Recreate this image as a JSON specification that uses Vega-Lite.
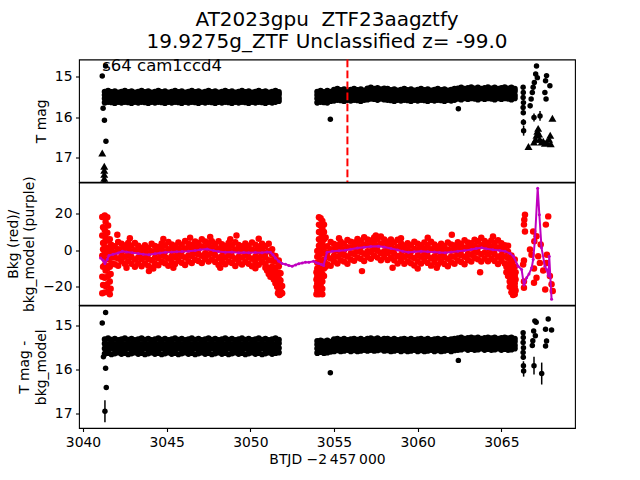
{
"$schema":"https://vega.github.io/schema/vega-lite/v6.json",
"padding":{"left":5,"top":8.5,"right":5,"bottom":5},
"spacing":0,
"bounds":"flush",
"config":{
 "font":"DejaVu Sans",
 "view":{"stroke":"black","strokeWidth":1.1},
 "axis":{"labelFont":"DejaVu Sans","labelFontSize":13.9,"labelColor":"black","titleFont":"DejaVu Sans","titleFontSize":13.9,"titleFontWeight":"normal","titleColor":"black","tickColor":"black","tickSize":3.5,"tickWidth":1.1,"labelPadding":3.5,"domain":false,"grid":false,"titlePadding":6,"titleLineHeight":16.5}
},
"datasets":{
"band":[
{"t":3041.3,"m":15.37,"c":15.32,"b":-8.0},{"t":3041.3,"m":15.45,"c":15.42,"b":-4.8},{"t":3041.3,"m":15.54,"c":15.53,"b":-1.5},{"t":3041.3,"m":15.64,"c":15.65,"b":1.6},
{"t":3041.5,"m":15.35,"c":15.30,"b":-8.7},{"t":3041.5,"m":15.46,"c":15.43,"b":-4.9},{"t":3041.5,"m":15.55,"c":15.55,"b":-1.5},{"t":3041.5,"m":15.62,"c":15.63,"b":1.3},
{"t":3041.7,"m":15.38,"c":15.33,"b":-7.1},{"t":3041.7,"m":15.44,"c":15.41,"b":-3.7},{"t":3041.7,"m":15.53,"c":15.52,"b":-0.3},{"t":3041.7,"m":15.63,"c":15.66,"b":2.9},
{"t":3041.9,"m":15.36,"c":15.31,"b":-7.6},{"t":3041.9,"m":15.47,"c":15.44,"b":-4.0},{"t":3041.9,"m":15.56,"c":15.54,"b":-1.2},{"t":3041.9,"m":15.65,"c":15.64,"b":2.2},
{"t":3042.1,"m":15.39,"c":15.34,"b":-8.5},{"t":3042.1,"m":15.45,"c":15.42,"b":-4.5},{"t":3042.1,"m":15.55,"c":15.53,"b":0.5},{"t":3042.1,"m":15.62,"c":15.62,"b":4.5},
{"t":3042.3,"m":15.37,"c":15.32,"b":-6.0},{"t":3042.3,"m":15.45,"c":15.42,"b":-2.8},{"t":3042.3,"m":15.54,"c":15.53,"b":0.5},{"t":3042.3,"m":15.64,"c":15.65,"b":3.6},
{"t":3042.5,"m":15.35,"c":15.30,"b":-7.4},{"t":3042.5,"m":15.46,"c":15.43,"b":-3.6},{"t":3042.5,"m":15.55,"c":15.55,"b":-0.2},{"t":3042.5,"m":15.62,"c":15.63,"b":2.6},
{"t":3042.7,"m":15.38,"c":15.33,"b":-6.0},{"t":3042.7,"m":15.44,"c":15.41,"b":-2.6},{"t":3042.7,"m":15.53,"c":15.52,"b":0.8},{"t":3042.7,"m":15.63,"c":15.66,"b":4.0},
{"t":3042.9,"m":15.36,"c":15.31,"b":-7.4},{"t":3042.9,"m":15.47,"c":15.44,"b":-3.8},{"t":3042.9,"m":15.56,"c":15.54,"b":-1.0},{"t":3042.9,"m":15.65,"c":15.64,"b":2.4},
{"t":3043.1,"m":15.39,"c":15.34,"b":-9.0},{"t":3043.1,"m":15.45,"c":15.42,"b":-5.0},{"t":3043.1,"m":15.55,"c":15.53,"b":0.0},{"t":3043.1,"m":15.62,"c":15.62,"b":4.0},
{"t":3043.3,"m":15.37,"c":15.32,"b":-7.2},{"t":3043.3,"m":15.45,"c":15.42,"b":-4.0},{"t":3043.3,"m":15.54,"c":15.53,"b":-0.7},{"t":3043.3,"m":15.64,"c":15.65,"b":2.4},
{"t":3043.5,"m":15.35,"c":15.30,"b":-8.7},{"t":3043.5,"m":15.46,"c":15.43,"b":-4.9},{"t":3043.5,"m":15.55,"c":15.55,"b":-1.5},{"t":3043.5,"m":15.62,"c":15.63,"b":1.3},
{"t":3043.7,"m":15.38,"c":15.33,"b":-7.3},{"t":3043.7,"m":15.44,"c":15.41,"b":-3.9},{"t":3043.7,"m":15.53,"c":15.52,"b":-0.5},{"t":3043.7,"m":15.63,"c":15.66,"b":2.7},
{"t":3043.9,"m":15.36,"c":15.31,"b":-8.4},{"t":3043.9,"m":15.47,"c":15.44,"b":-4.8},{"t":3043.9,"m":15.56,"c":15.54,"b":-2.0},{"t":3043.9,"m":15.65,"c":15.64,"b":1.4},
{"t":3044.1,"m":15.39,"c":15.34,"b":-9.5},{"t":3044.1,"m":15.45,"c":15.42,"b":-5.5},{"t":3044.1,"m":15.55,"c":15.53,"b":-0.5},{"t":3044.1,"m":15.62,"c":15.62,"b":3.5},
{"t":3044.3,"m":15.37,"c":15.32,"b":-7.3},{"t":3044.3,"m":15.45,"c":15.42,"b":-4.1},{"t":3044.3,"m":15.54,"c":15.53,"b":-0.8},{"t":3044.3,"m":15.64,"c":15.65,"b":2.3},
{"t":3044.5,"m":15.35,"c":15.30,"b":-8.2},{"t":3044.5,"m":15.46,"c":15.43,"b":-4.4},{"t":3044.5,"m":15.55,"c":15.55,"b":-1.0},{"t":3044.5,"m":15.62,"c":15.63,"b":1.8},
{"t":3044.7,"m":15.38,"c":15.33,"b":-6.3},{"t":3044.7,"m":15.44,"c":15.41,"b":-2.9},{"t":3044.7,"m":15.53,"c":15.52,"b":0.5},{"t":3044.7,"m":15.63,"c":15.66,"b":3.7},
{"t":3044.9,"m":15.36,"c":15.31,"b":-7.1},{"t":3044.9,"m":15.47,"c":15.44,"b":-3.5},{"t":3044.9,"m":15.56,"c":15.54,"b":-0.7},{"t":3044.9,"m":15.65,"c":15.64,"b":2.7},
{"t":3045.1,"m":15.39,"c":15.34,"b":-8.5},{"t":3045.1,"m":15.45,"c":15.42,"b":-4.5},{"t":3045.1,"m":15.55,"c":15.53,"b":0.5},{"t":3045.1,"m":15.62,"c":15.62,"b":4.5},
{"t":3045.3,"m":15.37,"c":15.32,"b":-6.4},{"t":3045.3,"m":15.45,"c":15.42,"b":-3.2},{"t":3045.3,"m":15.54,"c":15.53,"b":0.1},{"t":3045.3,"m":15.64,"c":15.65,"b":3.2},
{"t":3045.5,"m":15.35,"c":15.30,"b":-7.5},{"t":3045.5,"m":15.46,"c":15.43,"b":-3.7},{"t":3045.5,"m":15.55,"c":15.55,"b":-0.3},{"t":3045.5,"m":15.62,"c":15.63,"b":2.5},
{"t":3045.7,"m":15.38,"c":15.33,"b":-5.8},{"t":3045.7,"m":15.44,"c":15.41,"b":-2.4},{"t":3045.7,"m":15.53,"c":15.52,"b":1.0},{"t":3045.7,"m":15.63,"c":15.66,"b":4.2},
{"t":3045.9,"m":15.36,"c":15.31,"b":-6.8},{"t":3045.9,"m":15.47,"c":15.44,"b":-3.2},{"t":3045.9,"m":15.56,"c":15.54,"b":-0.4},{"t":3045.9,"m":15.65,"c":15.64,"b":3.0},
{"t":3046.1,"m":15.39,"c":15.34,"b":-8.0},{"t":3046.1,"m":15.45,"c":15.42,"b":-4.0},{"t":3046.1,"m":15.55,"c":15.53,"b":1.0},{"t":3046.1,"m":15.62,"c":15.62,"b":5.0},
{"t":3046.3,"m":15.37,"c":15.32,"b":-6.0},{"t":3046.3,"m":15.45,"c":15.42,"b":-2.8},{"t":3046.3,"m":15.54,"c":15.53,"b":0.5},{"t":3046.3,"m":15.64,"c":15.65,"b":3.6},
{"t":3046.5,"m":15.35,"c":15.30,"b":-7.0},{"t":3046.5,"m":15.46,"c":15.43,"b":-3.2},{"t":3046.5,"m":15.55,"c":15.55,"b":0.2},{"t":3046.5,"m":15.62,"c":15.63,"b":3.0},
{"t":3046.7,"m":15.38,"c":15.33,"b":-5.2},{"t":3046.7,"m":15.44,"c":15.41,"b":-1.8},{"t":3046.7,"m":15.53,"c":15.52,"b":1.6},{"t":3046.7,"m":15.63,"c":15.66,"b":4.8},
{"t":3046.9,"m":15.36,"c":15.31,"b":-5.9},{"t":3046.9,"m":15.47,"c":15.44,"b":-2.3},{"t":3046.9,"m":15.56,"c":15.54,"b":0.5},{"t":3046.9,"m":15.65,"c":15.64,"b":3.9},
{"t":3047.1,"m":15.39,"c":15.34,"b":-7.0},{"t":3047.1,"m":15.45,"c":15.42,"b":-3.0},{"t":3047.1,"m":15.55,"c":15.53,"b":2.0},{"t":3047.1,"m":15.62,"c":15.62,"b":6.0},
{"t":3047.3,"m":15.37,"c":15.32,"b":-4.8},{"t":3047.3,"m":15.45,"c":15.42,"b":-1.6},{"t":3047.3,"m":15.54,"c":15.53,"b":1.7},{"t":3047.3,"m":15.64,"c":15.65,"b":4.8},
{"t":3047.5,"m":15.35,"c":15.30,"b":-6.2},{"t":3047.5,"m":15.46,"c":15.43,"b":-2.4},{"t":3047.5,"m":15.55,"c":15.55,"b":1.0},{"t":3047.5,"m":15.62,"c":15.63,"b":3.8},
{"t":3047.7,"m":15.38,"c":15.33,"b":-5.1},{"t":3047.7,"m":15.44,"c":15.41,"b":-1.7},{"t":3047.7,"m":15.53,"c":15.52,"b":1.7},{"t":3047.7,"m":15.63,"c":15.66,"b":4.9},
{"t":3047.9,"m":15.36,"c":15.31,"b":-6.4},{"t":3047.9,"m":15.47,"c":15.44,"b":-2.8},{"t":3047.9,"m":15.56,"c":15.54,"b":0.0},{"t":3047.9,"m":15.65,"c":15.64,"b":3.4},
{"t":3048.1,"m":15.39,"c":15.34,"b":-8.1},{"t":3048.1,"m":15.45,"c":15.42,"b":-4.1},{"t":3048.1,"m":15.55,"c":15.53,"b":0.9},{"t":3048.1,"m":15.62,"c":15.62,"b":4.9},
{"t":3048.3,"m":15.37,"c":15.32,"b":-6.3},{"t":3048.3,"m":15.45,"c":15.42,"b":-3.1},{"t":3048.3,"m":15.54,"c":15.53,"b":0.2},{"t":3048.3,"m":15.64,"c":15.65,"b":3.3},
{"t":3048.5,"m":15.35,"c":15.30,"b":-7.7},{"t":3048.5,"m":15.46,"c":15.43,"b":-3.9},{"t":3048.5,"m":15.55,"c":15.55,"b":-0.5},{"t":3048.5,"m":15.62,"c":15.63,"b":2.3},
{"t":3048.7,"m":15.38,"c":15.33,"b":-6.1},{"t":3048.7,"m":15.44,"c":15.41,"b":-2.7},{"t":3048.7,"m":15.53,"c":15.52,"b":0.7},{"t":3048.7,"m":15.63,"c":15.66,"b":3.9},
{"t":3048.9,"m":15.36,"c":15.31,"b":-7.0},{"t":3048.9,"m":15.47,"c":15.44,"b":-3.4},{"t":3048.9,"m":15.56,"c":15.54,"b":-0.6},{"t":3048.9,"m":15.65,"c":15.64,"b":2.8},
{"t":3049.1,"m":15.39,"c":15.34,"b":-8.6},{"t":3049.1,"m":15.45,"c":15.42,"b":-4.6},{"t":3049.1,"m":15.55,"c":15.53,"b":0.4},{"t":3049.1,"m":15.62,"c":15.62,"b":4.4},
{"t":3049.3,"m":15.37,"c":15.32,"b":-6.7},{"t":3049.3,"m":15.45,"c":15.42,"b":-3.5},{"t":3049.3,"m":15.54,"c":15.53,"b":-0.2},{"t":3049.3,"m":15.64,"c":15.65,"b":2.9},
{"t":3049.5,"m":15.35,"c":15.30,"b":-7.8},{"t":3049.5,"m":15.46,"c":15.43,"b":-4.0},{"t":3049.5,"m":15.55,"c":15.55,"b":-0.6},{"t":3049.5,"m":15.62,"c":15.63,"b":2.2},
{"t":3049.7,"m":15.38,"c":15.33,"b":-6.3},{"t":3049.7,"m":15.44,"c":15.41,"b":-2.9},{"t":3049.7,"m":15.53,"c":15.52,"b":0.5},{"t":3049.7,"m":15.63,"c":15.66,"b":3.7},
{"t":3049.9,"m":15.36,"c":15.31,"b":-7.4},{"t":3049.9,"m":15.47,"c":15.44,"b":-3.8},{"t":3049.9,"m":15.56,"c":15.54,"b":-1.0},{"t":3049.9,"m":15.65,"c":15.64,"b":2.4},
{"t":3050.1,"m":15.39,"c":15.34,"b":-8.7},{"t":3050.1,"m":15.45,"c":15.42,"b":-4.7},{"t":3050.1,"m":15.55,"c":15.53,"b":0.3},{"t":3050.1,"m":15.62,"c":15.62,"b":4.3},
{"t":3050.3,"m":15.37,"c":15.32,"b":-6.6},{"t":3050.3,"m":15.45,"c":15.42,"b":-3.4},{"t":3050.3,"m":15.54,"c":15.53,"b":-0.1},{"t":3050.3,"m":15.64,"c":15.65,"b":3.0},
{"t":3050.5,"m":15.35,"c":15.30,"b":-7.9},{"t":3050.5,"m":15.46,"c":15.43,"b":-4.1},{"t":3050.5,"m":15.55,"c":15.55,"b":-0.7},{"t":3050.5,"m":15.62,"c":15.63,"b":2.1},
{"t":3050.7,"m":15.38,"c":15.33,"b":-6.4},{"t":3050.7,"m":15.44,"c":15.41,"b":-3.0},{"t":3050.7,"m":15.53,"c":15.52,"b":0.4},{"t":3050.7,"m":15.63,"c":15.66,"b":3.6},
{"t":3050.9,"m":15.36,"c":15.31,"b":-7.6},{"t":3050.9,"m":15.47,"c":15.44,"b":-4.0},{"t":3050.9,"m":15.56,"c":15.54,"b":-1.2},{"t":3050.9,"m":15.65,"c":15.64,"b":2.2},
{"t":3051.1,"m":15.39,"c":15.34,"b":-9.5},{"t":3051.1,"m":15.45,"c":15.42,"b":-5.5},{"t":3051.1,"m":15.55,"c":15.53,"b":-0.5},{"t":3051.1,"m":15.62,"c":15.62,"b":3.5},
{"t":3051.3,"m":15.37,"c":15.32,"b":-9.0},{"t":3051.3,"m":15.45,"c":15.42,"b":-5.8},{"t":3051.3,"m":15.54,"c":15.53,"b":-2.5},{"t":3051.3,"m":15.64,"c":15.65,"b":0.6},
{"t":3051.5,"m":15.35,"c":15.30,"b":-13.2},{"t":3051.5,"m":15.46,"c":15.43,"b":-9.4},{"t":3051.5,"m":15.55,"c":15.55,"b":-6.0},{"t":3051.5,"m":15.62,"c":15.63,"b":-3.2},
{"t":3051.7,"m":15.38,"c":15.33,"b":-15.6},{"t":3051.7,"m":15.44,"c":15.41,"b":-12.2},{"t":3051.7,"m":15.53,"c":15.52,"b":-8.8},{"t":3051.7,"m":15.6,"c":15.62,"b":-5.6},
{"t":3054.0,"m":15.37,"c":15.36,"b":-10.0},{"t":3054.0,"m":15.45,"c":15.44,"b":-6.8},{"t":3054.0,"m":15.54,"c":15.53,"b":-3.5},{"t":3054.0,"m":15.64,"c":15.63,"b":-0.4},
{"t":3054.2,"m":15.35,"c":15.35,"b":-9.2},{"t":3054.2,"m":15.46,"c":15.45,"b":-5.4},{"t":3054.2,"m":15.55,"c":15.55,"b":-2.0},{"t":3054.2,"m":15.62,"c":15.61,"b":0.8},
{"t":3054.4,"m":15.38,"c":15.37,"b":-8.6},{"t":3054.4,"m":15.44,"c":15.43,"b":-5.2},{"t":3054.4,"m":15.53,"c":15.52,"b":-1.8},{"t":3054.4,"m":15.63,"c":15.63,"b":1.4},
{"t":3054.6,"m":15.35,"c":15.35,"b":-7.6},{"t":3054.6,"m":15.46,"c":15.46,"b":-4.0},{"t":3054.6,"m":15.55,"c":15.54,"b":-1.2},{"t":3054.6,"m":15.64,"c":15.62,"b":2.2},
{"t":3054.8,"m":15.37,"c":15.38,"b":-8.5},{"t":3054.8,"m":15.43,"c":15.44,"b":-4.5},{"t":3054.8,"m":15.53,"c":15.53,"b":0.5},{"t":3054.8,"m":15.60,"c":15.60,"b":4.5},
{"t":3055.0,"m":15.32,"c":15.32,"b":-6.2},{"t":3055.0,"m":15.40,"c":15.40,"b":-3.0},{"t":3055.0,"m":15.49,"c":15.49,"b":0.3},{"t":3055.0,"m":15.59,"c":15.59,"b":3.4},
{"t":3055.2,"m":15.30,"c":15.31,"b":-7.2},{"t":3055.2,"m":15.41,"c":15.41,"b":-3.4},{"t":3055.2,"m":15.50,"c":15.51,"b":0.0},{"t":3055.2,"m":15.57,"c":15.57,"b":2.8},
{"t":3055.4,"m":15.33,"c":15.33,"b":-5.4},{"t":3055.4,"m":15.39,"c":15.39,"b":-2.0},{"t":3055.4,"m":15.48,"c":15.48,"b":1.4},{"t":3055.4,"m":15.58,"c":15.59,"b":4.6},
{"t":3055.6,"m":15.31,"c":15.31,"b":-6.2},{"t":3055.6,"m":15.42,"c":15.42,"b":-2.6},{"t":3055.6,"m":15.51,"c":15.50,"b":0.2},{"t":3055.6,"m":15.60,"c":15.58,"b":3.6},
{"t":3055.8,"m":15.34,"c":15.34,"b":-7.4},{"t":3055.8,"m":15.40,"c":15.40,"b":-3.4},{"t":3055.8,"m":15.50,"c":15.49,"b":1.6},{"t":3055.8,"m":15.57,"c":15.56,"b":5.6},
{"t":3056.0,"m":15.32,"c":15.32,"b":-5.0},{"t":3056.0,"m":15.40,"c":15.40,"b":-1.8},{"t":3056.0,"m":15.49,"c":15.49,"b":1.5},{"t":3056.0,"m":15.59,"c":15.59,"b":4.6},
{"t":3056.2,"m":15.30,"c":15.31,"b":-5.8},{"t":3056.2,"m":15.41,"c":15.41,"b":-2.0},{"t":3056.2,"m":15.50,"c":15.51,"b":1.4},{"t":3056.2,"m":15.57,"c":15.57,"b":4.2},
{"t":3056.4,"m":15.33,"c":15.33,"b":-3.9},{"t":3056.4,"m":15.39,"c":15.39,"b":-0.5},{"t":3056.4,"m":15.48,"c":15.48,"b":2.9},{"t":3056.4,"m":15.58,"c":15.59,"b":6.1},
{"t":3056.6,"m":15.31,"c":15.31,"b":-4.6},{"t":3056.6,"m":15.42,"c":15.42,"b":-1.0},{"t":3056.6,"m":15.51,"c":15.50,"b":1.8},{"t":3056.6,"m":15.60,"c":15.58,"b":5.2},
{"t":3056.8,"m":15.34,"c":15.34,"b":-5.9},{"t":3056.8,"m":15.40,"c":15.40,"b":-1.9},{"t":3056.8,"m":15.50,"c":15.49,"b":3.1},{"t":3056.8,"m":15.57,"c":15.56,"b":7.1},
{"t":3057.0,"m":15.29,"c":15.31,"b":-3.7},{"t":3057.0,"m":15.37,"c":15.39,"b":-0.5},{"t":3057.0,"m":15.46,"c":15.48,"b":2.8},{"t":3057.0,"m":15.56,"c":15.58,"b":5.9},
{"t":3057.2,"m":15.27,"c":15.30,"b":-4.7},{"t":3057.2,"m":15.38,"c":15.40,"b":-0.9},{"t":3057.2,"m":15.47,"c":15.50,"b":2.5},{"t":3057.2,"m":15.54,"c":15.56,"b":5.3},
{"t":3057.4,"m":15.30,"c":15.32,"b":-3.0},{"t":3057.4,"m":15.36,"c":15.38,"b":0.4},{"t":3057.4,"m":15.45,"c":15.47,"b":3.8},{"t":3057.4,"m":15.55,"c":15.58,"b":7.0},
{"t":3057.6,"m":15.28,"c":15.30,"b":-3.9},{"t":3057.6,"m":15.39,"c":15.41,"b":-0.3},{"t":3057.6,"m":15.48,"c":15.49,"b":2.5},{"t":3057.6,"m":15.57,"c":15.57,"b":5.9},
{"t":3057.8,"m":15.31,"c":15.33,"b":-5.5},{"t":3057.8,"m":15.37,"c":15.39,"b":-1.5},{"t":3057.8,"m":15.47,"c":15.48,"b":3.5},{"t":3057.8,"m":15.54,"c":15.55,"b":7.5},
{"t":3058.0,"m":15.29,"c":15.31,"b":-3.7},{"t":3058.0,"m":15.37,"c":15.39,"b":-0.5},{"t":3058.0,"m":15.46,"c":15.48,"b":2.8},{"t":3058.0,"m":15.56,"c":15.58,"b":5.9},
{"t":3058.2,"m":15.30,"c":15.31,"b":-5.3},{"t":3058.2,"m":15.41,"c":15.41,"b":-1.5},{"t":3058.2,"m":15.50,"c":15.51,"b":1.9},{"t":3058.2,"m":15.57,"c":15.57,"b":4.7},
{"t":3058.4,"m":15.33,"c":15.33,"b":-4.1},{"t":3058.4,"m":15.39,"c":15.39,"b":-0.7},{"t":3058.4,"m":15.48,"c":15.48,"b":2.7},{"t":3058.4,"m":15.58,"c":15.59,"b":5.9},
{"t":3058.6,"m":15.31,"c":15.31,"b":-5.5},{"t":3058.6,"m":15.42,"c":15.42,"b":-1.9},{"t":3058.6,"m":15.51,"c":15.50,"b":0.9},{"t":3058.6,"m":15.60,"c":15.58,"b":4.3},
{"t":3058.8,"m":15.34,"c":15.34,"b":-7.3},{"t":3058.8,"m":15.40,"c":15.40,"b":-3.3},{"t":3058.8,"m":15.50,"c":15.49,"b":1.7},{"t":3058.8,"m":15.57,"c":15.56,"b":5.7},
{"t":3059.0,"m":15.32,"c":15.32,"b":-5.8},{"t":3059.0,"m":15.40,"c":15.40,"b":-2.6},{"t":3059.0,"m":15.49,"c":15.49,"b":0.7},{"t":3059.0,"m":15.59,"c":15.59,"b":3.8},
{"t":3059.2,"m":15.30,"c":15.31,"b":-7.4},{"t":3059.2,"m":15.41,"c":15.41,"b":-3.6},{"t":3059.2,"m":15.50,"c":15.51,"b":-0.2},{"t":3059.2,"m":15.57,"c":15.57,"b":2.6},
{"t":3059.4,"m":15.33,"c":15.33,"b":-6.2},{"t":3059.4,"m":15.39,"c":15.39,"b":-2.8},{"t":3059.4,"m":15.48,"c":15.48,"b":0.6},{"t":3059.4,"m":15.58,"c":15.59,"b":3.8},
{"t":3059.6,"m":15.31,"c":15.31,"b":-7.1},{"t":3059.6,"m":15.42,"c":15.42,"b":-3.5},{"t":3059.6,"m":15.51,"c":15.50,"b":-0.7},{"t":3059.6,"m":15.60,"c":15.58,"b":2.7},
{"t":3059.8,"m":15.34,"c":15.34,"b":-8.3},{"t":3059.8,"m":15.40,"c":15.40,"b":-4.3},{"t":3059.8,"m":15.50,"c":15.49,"b":0.7},{"t":3059.8,"m":15.57,"c":15.56,"b":4.7},
{"t":3060.0,"m":15.32,"c":15.32,"b":-6.1},{"t":3060.0,"m":15.40,"c":15.40,"b":-2.9},{"t":3060.0,"m":15.49,"c":15.49,"b":0.4},{"t":3060.0,"m":15.59,"c":15.59,"b":3.5},
{"t":3060.2,"m":15.30,"c":15.31,"b":-7.3},{"t":3060.2,"m":15.41,"c":15.41,"b":-3.5},{"t":3060.2,"m":15.50,"c":15.51,"b":-0.1},{"t":3060.2,"m":15.57,"c":15.57,"b":2.7},
{"t":3060.4,"m":15.33,"c":15.33,"b":-5.8},{"t":3060.4,"m":15.39,"c":15.39,"b":-2.4},{"t":3060.4,"m":15.48,"c":15.48,"b":1.0},{"t":3060.4,"m":15.58,"c":15.59,"b":4.2},
{"t":3060.6,"m":15.31,"c":15.31,"b":-6.9},{"t":3060.6,"m":15.42,"c":15.42,"b":-3.3},{"t":3060.6,"m":15.51,"c":15.50,"b":-0.5},{"t":3060.6,"m":15.60,"c":15.58,"b":2.9},
{"t":3060.8,"m":15.34,"c":15.34,"b":-8.4},{"t":3060.8,"m":15.40,"c":15.40,"b":-4.4},{"t":3060.8,"m":15.50,"c":15.49,"b":0.6},{"t":3060.8,"m":15.57,"c":15.56,"b":4.6},
{"t":3061.0,"m":15.32,"c":15.32,"b":-6.5},{"t":3061.0,"m":15.40,"c":15.40,"b":-3.3},{"t":3061.0,"m":15.49,"c":15.49,"b":0.0},{"t":3061.0,"m":15.59,"c":15.59,"b":3.1},
{"t":3061.2,"m":15.30,"c":15.31,"b":-7.9},{"t":3061.2,"m":15.41,"c":15.41,"b":-4.1},{"t":3061.2,"m":15.50,"c":15.51,"b":-0.7},{"t":3061.2,"m":15.57,"c":15.57,"b":2.1},
{"t":3061.4,"m":15.33,"c":15.33,"b":-6.4},{"t":3061.4,"m":15.39,"c":15.39,"b":-3.0},{"t":3061.4,"m":15.48,"c":15.48,"b":0.4},{"t":3061.4,"m":15.58,"c":15.59,"b":3.6},
{"t":3061.6,"m":15.31,"c":15.31,"b":-7.5},{"t":3061.6,"m":15.42,"c":15.42,"b":-3.9},{"t":3061.6,"m":15.51,"c":15.50,"b":-1.1},{"t":3061.6,"m":15.60,"c":15.58,"b":2.3},
{"t":3061.8,"m":15.34,"c":15.34,"b":-8.7},{"t":3061.8,"m":15.40,"c":15.40,"b":-4.7},{"t":3061.8,"m":15.50,"c":15.49,"b":0.3},{"t":3061.8,"m":15.57,"c":15.56,"b":4.3},
{"t":3062.0,"m":15.32,"c":15.32,"b":-6.5},{"t":3062.0,"m":15.40,"c":15.40,"b":-3.3},{"t":3062.0,"m":15.49,"c":15.49,"b":0.0},{"t":3062.0,"m":15.59,"c":15.59,"b":3.1},
{"t":3062.2,"m":15.30,"c":15.31,"b":-7.4},{"t":3062.2,"m":15.41,"c":15.41,"b":-3.6},{"t":3062.2,"m":15.50,"c":15.51,"b":-0.2},{"t":3062.2,"m":15.57,"c":15.57,"b":2.6},
{"t":3062.4,"m":15.29,"c":15.30,"b":-5.6},{"t":3062.4,"m":15.35,"c":15.36,"b":-2.2},{"t":3062.4,"m":15.44,"c":15.45,"b":1.2},{"t":3062.4,"m":15.54,"c":15.56,"b":4.4},
{"t":3062.6,"m":15.27,"c":15.28,"b":-6.4},{"t":3062.6,"m":15.38,"c":15.39,"b":-2.8},{"t":3062.6,"m":15.47,"c":15.47,"b":0.0},{"t":3062.6,"m":15.56,"c":15.55,"b":3.4},
{"t":3062.8,"m":15.30,"c":15.31,"b":-7.6},{"t":3062.8,"m":15.36,"c":15.37,"b":-3.6},{"t":3062.8,"m":15.46,"c":15.46,"b":1.4},{"t":3062.8,"m":15.53,"c":15.53,"b":5.4},
{"t":3063.0,"m":15.28,"c":15.29,"b":-5.3},{"t":3063.0,"m":15.36,"c":15.37,"b":-2.1},{"t":3063.0,"m":15.45,"c":15.46,"b":1.2},{"t":3063.0,"m":15.55,"c":15.56,"b":4.3},
{"t":3063.2,"m":15.26,"c":15.28,"b":-6.2},{"t":3063.2,"m":15.37,"c":15.38,"b":-2.4},{"t":3063.2,"m":15.46,"c":15.48,"b":1.0},{"t":3063.2,"m":15.53,"c":15.54,"b":3.8},
{"t":3063.4,"m":15.29,"c":15.30,"b":-4.2},{"t":3063.4,"m":15.35,"c":15.36,"b":-0.8},{"t":3063.4,"m":15.44,"c":15.45,"b":2.6},{"t":3063.4,"m":15.54,"c":15.56,"b":5.8},
{"t":3063.6,"m":15.27,"c":15.28,"b":-4.9},{"t":3063.6,"m":15.38,"c":15.39,"b":-1.3},{"t":3063.6,"m":15.47,"c":15.47,"b":1.5},{"t":3063.6,"m":15.56,"c":15.55,"b":4.9},
{"t":3063.8,"m":15.30,"c":15.31,"b":-6.2},{"t":3063.8,"m":15.36,"c":15.37,"b":-2.2},{"t":3063.8,"m":15.46,"c":15.46,"b":2.8},{"t":3063.8,"m":15.53,"c":15.53,"b":6.8},
{"t":3064.0,"m":15.28,"c":15.29,"b":-4.5},{"t":3064.0,"m":15.36,"c":15.37,"b":-1.3},{"t":3064.0,"m":15.45,"c":15.46,"b":2.0},{"t":3064.0,"m":15.55,"c":15.56,"b":5.1},
{"t":3064.2,"m":15.26,"c":15.28,"b":-6.0},{"t":3064.2,"m":15.37,"c":15.38,"b":-2.2},{"t":3064.2,"m":15.46,"c":15.48,"b":1.2},{"t":3064.2,"m":15.53,"c":15.54,"b":4.0},
{"t":3064.4,"m":15.29,"c":15.30,"b":-4.7},{"t":3064.4,"m":15.35,"c":15.36,"b":-1.3},{"t":3064.4,"m":15.44,"c":15.45,"b":2.1},{"t":3064.4,"m":15.54,"c":15.56,"b":5.3},
{"t":3064.6,"m":15.27,"c":15.28,"b":-5.9},{"t":3064.6,"m":15.38,"c":15.39,"b":-2.3},{"t":3064.6,"m":15.47,"c":15.47,"b":0.5},{"t":3064.6,"m":15.56,"c":15.55,"b":3.9},
{"t":3064.8,"m":15.30,"c":15.31,"b":-7.5},{"t":3064.8,"m":15.36,"c":15.37,"b":-3.5},{"t":3064.8,"m":15.46,"c":15.46,"b":1.5},{"t":3064.8,"m":15.53,"c":15.53,"b":5.5},
{"t":3065.0,"m":15.28,"c":15.29,"b":-5.8},{"t":3065.0,"m":15.36,"c":15.37,"b":-2.6},{"t":3065.0,"m":15.45,"c":15.46,"b":0.7},{"t":3065.0,"m":15.55,"c":15.56,"b":3.8},
{"t":3065.2,"m":15.26,"c":15.28,"b":-7.2},{"t":3065.2,"m":15.37,"c":15.38,"b":-3.4},{"t":3065.2,"m":15.46,"c":15.48,"b":0.0},{"t":3065.2,"m":15.53,"c":15.54,"b":2.8},
{"t":3065.4,"m":15.29,"c":15.30,"b":-7.6},{"t":3065.4,"m":15.35,"c":15.36,"b":-4.2},{"t":3065.4,"m":15.44,"c":15.45,"b":-0.8},{"t":3065.4,"m":15.54,"c":15.56,"b":2.4},
{"t":3065.6,"m":15.27,"c":15.28,"b":-12.6},{"t":3065.6,"m":15.38,"c":15.39,"b":-9.0},{"t":3065.6,"m":15.47,"c":15.47,"b":-6.2},{"t":3065.6,"m":15.56,"c":15.55,"b":-2.8},
{"t":3065.8,"m":15.30,"c":15.31,"b":-18.0},{"t":3065.8,"m":15.36,"c":15.37,"b":-14.0},{"t":3065.8,"m":15.46,"c":15.46,"b":-9.0},{"t":3065.8,"m":15.53,"c":15.53,"b":-5.0}
],
"bx":[
{"t":3041.15,"b":18.2},{"t":3041.2,"b":12.5},{"t":3041.15,"b":8.0},{"t":3041.2,"b":4.0},{"t":3041.2,"b":0.5},{"t":3041.15,"b":-3.0},{"t":3041.2,"b":-9.0},{"t":3041.15,"b":-14.5},{"t":3041.2,"b":-19.0},{"t":3041.15,"b":-23.5},
{"t":3041.3,"b":19.0},{"t":3041.35,"b":15.5},{"t":3041.3,"b":11.0},{"t":3041.35,"b":7.0},{"t":3041.3,"b":4.5},{"t":3041.35,"b":-11.0},{"t":3041.3,"b":-15.0},{"t":3041.35,"b":-19.5},{"t":3041.3,"b":-23.0},
{"t":3041.45,"b":18.0},{"t":3041.5,"b":13.5},{"t":3041.45,"b":9.5},{"t":3041.5,"b":5.5},{"t":3041.45,"b":-10.0},{"t":3041.5,"b":-14.0},{"t":3041.45,"b":-18.5},{"t":3041.5,"b":-22.5},
{"t":3041.6,"b":-9.0},{"t":3041.65,"b":-13.0},{"t":3041.6,"b":-17.0},{"t":3041.65,"b":-21.0},{"t":3041.6,"b":-24.0},{"t":3041.6,"b":6.0},{"t":3041.65,"b":2.5},
{"t":3042.05,"b":8.5},{"t":3042.8,"b":6.5},{"t":3043.94,"b":-11.4},{"t":3045.4,"b":-9.6},{"t":3046.4,"b":6.8},{"t":3047.6,"b":7.2},{"t":3049.17,"b":8.0},{"t":3050.5,"b":6.3},{"t":3044.2,"b":-10.0},{"t":3048.2,"b":-9.5},{"t":3050.3,"b":-9.8},{"t":3042.6,"b":-9.5},{"t":3044.8,"b":6.2},{"t":3048.8,"b":6.0},
{"t":3050.9,"b":-9.5},{"t":3051.0,"b":-11.0},{"t":3051.1,"b":-13.0},{"t":3051.2,"b":-10.5},{"t":3051.2,"b":-14.5},{"t":3051.3,"b":-12.5},{"t":3051.4,"b":-16.0},{"t":3051.4,"b":-11.0},{"t":3051.5,"b":-18.0},{"t":3051.5,"b":-15.0},{"t":3051.6,"b":-20.0},{"t":3051.6,"b":-12.5},{"t":3051.6,"b":-17.0},{"t":3051.7,"b":-22.0},{"t":3051.7,"b":-19.0},{"t":3051.8,"b":-24.0},{"t":3051.8,"b":-20.5},{"t":3051.8,"b":-16.5},{"t":3051.85,"b":-23.0},{"t":3051.75,"b":-24.5},{"t":3051.65,"b":-23.5},{"t":3051.8,"b":-12.5},{"t":3051.9,"b":-19.5},{"t":3051.9,"b":-23.5},
{"t":3053.95,"b":-12.0},{"t":3053.95,"b":-16.0},{"t":3053.95,"b":-20.0},{"t":3053.95,"b":-24.0},{"t":3054.0,"b":-14.0},{"t":3054.0,"b":-18.0},{"t":3054.0,"b":-22.0},
{"t":3054.1,"b":18.0},{"t":3054.1,"b":14.0},{"t":3054.1,"b":10.0},{"t":3054.1,"b":6.0},{"t":3054.1,"b":2.5},{"t":3054.1,"b":-13.0},{"t":3054.1,"b":-17.0},{"t":3054.1,"b":-21.0},{"t":3054.1,"b":-24.0},
{"t":3054.2,"b":17.5},{"t":3054.2,"b":13.5},{"t":3054.2,"b":9.5},{"t":3054.2,"b":5.0},{"t":3054.2,"b":-11.0},{"t":3054.2,"b":-15.0},{"t":3054.2,"b":-19.0},{"t":3054.2,"b":-23.0},
{"t":3054.3,"b":16.0},{"t":3054.3,"b":12.0},{"t":3054.3,"b":8.0},{"t":3054.3,"b":4.0},{"t":3054.3,"b":-9.0},{"t":3054.3,"b":-13.0},{"t":3054.3,"b":-17.0},{"t":3054.3,"b":-21.0},{"t":3054.3,"b":-24.0},
{"t":3054.4,"b":14.0},{"t":3054.4,"b":10.0},{"t":3054.4,"b":6.0},{"t":3054.4,"b":-10.0},{"t":3054.4,"b":-14.0},{"t":3054.5,"b":7.0},{"t":3054.5,"b":-9.0},
{"t":3055.3,"b":6.5},{"t":3056.67,"b":-11.4},{"t":3057.5,"b":8.0},{"t":3059.0,"b":6.5},{"t":3060.6,"b":6.8},{"t":3061.14,"b":-9.6},{"t":3062.04,"b":8.5},{"t":3063.73,"b":-12.0},{"t":3064.5,"b":7.5},{"t":3058.5,"b":-9.5},{"t":3060.0,"b":-10.0},
{"t":3065.3,"b":-9.0},{"t":3065.3,"b":-12.0},{"t":3065.4,"b":-11.0},{"t":3065.4,"b":-14.0},{"t":3065.5,"b":-10.0},{"t":3065.5,"b":-14.0},{"t":3065.5,"b":-17.0},{"t":3065.5,"b":-20.0},{"t":3065.6,"b":-16.0},{"t":3065.6,"b":-20.0},{"t":3065.6,"b":-23.0},{"t":3065.7,"b":-6.0},{"t":3065.7,"b":-10.0},{"t":3065.7,"b":-14.0},{"t":3065.7,"b":-18.0},{"t":3065.7,"b":-22.0},{"t":3065.7,"b":-24.5},{"t":3065.8,"b":-20.0},{"t":3065.8,"b":-24.0},{"t":3065.85,"b":-22.0},{"t":3065.85,"b":-16.0},{"t":3065.85,"b":-12.0},
{"t":3066.41,"b":19.4},{"t":3066.37,"b":16.7},{"t":3066.35,"b":14.0},{"t":3066.41,"b":10.3},{"t":3066.9,"b":10.3},{"t":3067.1,"b":7.6},{"t":3067.8,"b":18.5},{"t":3067.66,"b":14.0},{"t":3067.35,"b":3.1},{"t":3066.71,"b":0.4},{"t":3066.8,"b":-2.4},{"t":3067.2,"b":-3.3},{"t":3067.72,"b":-2.4},{"t":3067.3,"b":-6.9},{"t":3066.35,"b":-5.6},{"t":3066.3,"b":-7.8},{"t":3066.95,"b":-10.0},{"t":3067.5,"b":-11.0},{"t":3067.1,"b":-15.0},{"t":3066.95,"b":-17.8},{"t":3066.35,"b":-17.0},{"t":3066.35,"b":-20.5},{"t":3067.62,"b":-21.4},{"t":3068.0,"b":-18.6},{"t":3068.07,"b":-22.3},{"t":3067.9,"b":-14.0},{"t":3066.97,"b":4.9},{"t":3067.7,"b":-7.0}
],
"model":[
{"t":3041.05,"b":-4.2},{"t":3041.2,"b":-5.5},{"t":3041.31,"b":-7.2},{"t":3041.45,"b":-5.0},{"t":3041.55,"b":-2.9},{"t":3041.8,"b":-2.2},{"t":3042.1,"b":-1.5},{"t":3042.35,"b":-0.5},{"t":3042.6,"b":-0.9},{"t":3042.95,"b":-1.4},{"t":3043.3,"b":-1.8},{"t":3043.6,"b":-2.2},{"t":3043.94,"b":-2.4},{"t":3044.3,"b":-1.9},{"t":3044.6,"b":-1.5},{"t":3044.93,"b":-1.1},{"t":3045.3,"b":-1.0},{"t":3045.6,"b":-0.8},{"t":3045.92,"b":-0.7},{"t":3046.3,"b":-0.5},{"t":3046.7,"b":-0.2},{"t":3047.0,"b":0.3},{"t":3047.42,"b":0.7},{"t":3047.8,"b":-0.2},{"t":3048.1,"b":-0.7},{"t":3048.51,"b":-1.1},{"t":3048.9,"b":-1.0},{"t":3049.3,"b":-1.3},{"t":3049.6,"b":-1.2},{"t":3049.9,"b":-1.4},{"t":3050.3,"b":-1.2},{"t":3050.7,"b":-1.3},{"t":3051.0,"b":-1.0},{"t":3051.2,"b":-1.1},{"t":3051.35,"b":-2.5},{"t":3051.5,"b":-4.2},{"t":3051.7,"b":-6.0},{"t":3051.9,"b":-7.3},{"t":3052.1,"b":-7.6},{"t":3052.3,"b":-8.3},{"t":3052.5,"b":-8.7},{"t":3052.7,"b":-8.0},{"t":3052.89,"b":-7.4},{"t":3053.1,"b":-7.0},{"t":3053.29,"b":-6.5},{"t":3053.5,"b":-6.6},{"t":3053.78,"b":-6.0},{"t":3053.95,"b":-6.8},{"t":3054.08,"b":-7.3},{"t":3054.25,"b":-7.8},{"t":3054.38,"b":-8.3},{"t":3054.48,"b":-4.5},{"t":3054.58,"b":-1.1},{"t":3054.9,"b":-0.6},{"t":3055.3,"b":-0.3},{"t":3055.67,"b":0.0},{"t":3056.0,"b":0.6},{"t":3056.4,"b":1.2},{"t":3056.8,"b":1.6},{"t":3057.2,"b":2.0},{"t":3057.66,"b":2.2},{"t":3058.0,"b":1.8},{"t":3058.4,"b":1.0},{"t":3058.8,"b":0.2},{"t":3059.1,"b":-0.5},{"t":3059.45,"b":-1.1},{"t":3059.8,"b":-0.8},{"t":3060.2,"b":-0.6},{"t":3060.6,"b":-0.8},{"t":3061.0,"b":-1.0},{"t":3061.3,"b":-1.2},{"t":3061.64,"b":-1.4},{"t":3062.0,"b":-1.0},{"t":3062.4,"b":-0.6},{"t":3062.8,"b":-0.2},{"t":3063.2,"b":0.4},{"t":3063.5,"b":1.0},{"t":3063.82,"b":1.3},{"t":3064.1,"b":0.8},{"t":3064.5,"b":0.3},{"t":3064.9,"b":-0.1},{"t":3065.22,"b":-0.5},{"t":3065.52,"b":-1.8},{"t":3065.72,"b":-3.3},{"t":3066.0,"b":-8.7},{"t":3066.21,"b":-10.5},{"t":3066.35,"b":-19.0},{"t":3066.51,"b":-15.0},{"t":3066.65,"b":-13.0},{"t":3066.81,"b":-9.6},{"t":3066.9,"b":-5.1},{"t":3067.0,"b":4.9},{"t":3067.17,"b":33.9},{"t":3067.27,"b":19.4},{"t":3067.4,"b":1.3},{"t":3067.6,"b":-8.7},{"t":3067.7,"b":-10.5},{"t":3067.82,"b":-14.0},{"t":3067.86,"b":-3.3},{"t":3068.0,"b":-26.8}
],
"p1":[
{"t":3041.15,"v":14.98,"e":0.02},{"t":3041.35,"v":14.73,"e":0.02},{"t":3041.2,"v":15.78,"e":0.03},{"t":3041.28,"v":16.08,"e":0.04},{"t":3041.37,"v":16.6,"e":0.05},
{"t":3054.78,"v":16.05,"e":0.02},{"t":3062.43,"v":15.79,"e":0.02},
{"t":3066.3,"v":15.26,"e":0.03},{"t":3066.31,"v":15.39,"e":0.03},{"t":3066.3,"v":15.51,"e":0.03},{"t":3066.32,"v":15.64,"e":0.04},{"t":3066.3,"v":15.76,"e":0.04},{"t":3066.31,"v":15.89,"e":0.05},{"t":3066.32,"v":16.13,"e":0.08},{"t":3066.33,"v":16.34,"e":0.12},
{"t":3067.1,"v":14.73,"e":0.03},{"t":3067.05,"v":14.93,"e":0.03},{"t":3067.15,"v":15.02,"e":0.03},{"t":3066.97,"v":15.14,"e":0.04},{"t":3066.9,"v":15.26,"e":0.04},{"t":3066.85,"v":15.39,"e":0.05},{"t":3066.78,"v":15.55,"e":0.05},{"t":3066.72,"v":15.72,"e":0.06},{"t":3066.95,"v":16.01,"e":0.1},
{"t":3067.7,"v":14.97,"e":0.03},{"t":3067.64,"v":15.1,"e":0.03},{"t":3067.9,"v":15.22,"e":0.04},{"t":3067.6,"v":15.39,"e":0.05},{"t":3067.67,"v":15.55,"e":0.05},{"t":3067.31,"v":15.97,"e":0.12}
],
"lim":[
{"t":3041.15,"v":16.89},{"t":3041.27,"v":17.22},{"t":3041.27,"v":17.32},{"t":3041.27,"v":17.42},{"t":3041.27,"v":17.52},{"t":3041.27,"v":17.6},
{"t":3066.62,"v":16.73},{"t":3066.95,"v":16.62},{"t":3067.05,"v":16.55},{"t":3067.1,"v":16.45},{"t":3067.15,"v":16.35},{"t":3067.2,"v":16.28},{"t":3067.25,"v":16.42},{"t":3067.3,"v":16.55},{"t":3067.4,"v":16.62},{"t":3067.5,"v":16.6},{"t":3067.6,"v":16.65},{"t":3067.7,"v":16.62},{"t":3067.85,"v":16.55},{"t":3067.92,"v":16.45},{"t":3067.95,"v":16.66},{"t":3068.05,"v":16.03}
],
"p3":[
{"t":3041.15,"v":14.95,"e":0.02},{"t":3041.35,"v":14.71,"e":0.02},{"t":3041.22,"v":15.72,"e":0.03},{"t":3041.35,"v":15.98,"e":0.04},{"t":3041.39,"v":16.42,"e":0.05},{"t":3041.31,"v":16.96,"e":0.25},
{"t":3054.78,"v":16.08,"e":0.02},{"t":3062.43,"v":15.8,"e":0.02},
{"t":3066.3,"v":15.17,"e":0.03},{"t":3066.31,"v":15.28,"e":0.03},{"t":3066.3,"v":15.39,"e":0.03},{"t":3066.32,"v":15.51,"e":0.04},{"t":3066.3,"v":15.62,"e":0.04},{"t":3066.31,"v":15.73,"e":0.05},{"t":3066.32,"v":15.92,"e":0.1},{"t":3066.33,"v":16.04,"e":0.13},
{"t":3067.0,"v":14.9,"e":0.03},{"t":3067.08,"v":14.93,"e":0.03},{"t":3066.93,"v":15.13,"e":0.04},{"t":3067.03,"v":15.24,"e":0.04},{"t":3066.88,"v":15.35,"e":0.05},{"t":3066.85,"v":15.46,"e":0.05},{"t":3066.95,"v":15.92,"e":0.2},
{"t":3067.8,"v":14.86,"e":0.03},{"t":3067.64,"v":15.09,"e":0.04},{"t":3068.0,"v":15.11,"e":0.04},{"t":3067.7,"v":15.36,"e":0.05},{"t":3067.64,"v":15.47,"e":0.05},{"t":3067.41,"v":16.1,"e":0.25}
]
},
"vconcat":[
{
"width":496,"height":122.5,
"title":{"text":["AT2023gpu\u00a0 ZTF23aagztfy","19.9275g_ZTF Unclassified z= -99.0"],"fontSize":20,"fontWeight":"normal","font":"DejaVu Sans","color":"black","anchor":"middle","frame":"group","lineHeight":22.5,"offset":6},
"layer":[
{"data":{"name":"band"},"mark":{"type":"circle","size":38,"color":"black","opacity":1,"clip":true},
 "encoding":{"x":{"field":"t","type":"quantitative","scale":{"domain":[3039.76,3069.4],"nice":false,"zero":false},"axis":null},
 "y":{"field":"m","type":"quantitative","scale":{"domain":[14.57,17.61],"reverse":true,"nice":false,"zero":false},"axis":{"title":"T mag","values":[15,16,17]}}}},
{"data":{"name":"p1"},"mark":{"type":"errorbar","color":"black","thickness":1.5},
 "encoding":{"x":{"field":"t","type":"quantitative","scale":{"domain":[3039.76,3069.4],"nice":false,"zero":false},"axis":null},
 "y":{"field":"v","type":"quantitative","scale":{"domain":[14.57,17.61],"reverse":true,"nice":false,"zero":false},"axis":{"title":"T mag","values":[15,16,17]}},"yError":{"field":"e"}}},
{"data":{"name":"p1"},"mark":{"type":"circle","size":30,"color":"black","opacity":1,"clip":true},
 "encoding":{"x":{"field":"t","type":"quantitative","scale":{"domain":[3039.76,3069.4],"nice":false,"zero":false},"axis":null},
 "y":{"field":"v","type":"quantitative","scale":{"domain":[14.57,17.61],"reverse":true,"nice":false,"zero":false},"axis":{"title":"T mag","values":[15,16,17]}}}},
{"data":{"name":"lim"},"mark":{"type":"point","shape":"triangle-up","filled":true,"size":64,"color":"black","opacity":1,"clip":true},
 "encoding":{"x":{"field":"t","type":"quantitative","scale":{"domain":[3039.76,3069.4],"nice":false,"zero":false},"axis":null},
 "y":{"field":"v","type":"quantitative","scale":{"domain":[14.57,17.61],"reverse":true,"nice":false,"zero":false},"axis":{"title":"T mag","values":[15,16,17]}}}},
{"data":{"values":[{"t":3055.8}]},"mark":{"type":"rule","color":"red","strokeWidth":2,"strokeDash":[7.7,3.3]},
 "encoding":{"x":{"field":"t","type":"quantitative","scale":{"domain":[3039.76,3069.4],"nice":false,"zero":false},"axis":null}}},
{"data":{"values":[{"t":3041.15,"v":14.86,"label":"s64 cam1ccd4"}]},"mark":{"type":"text","align":"left","baseline":"alphabetic","fontSize":16.5,"font":"DejaVu Sans","color":"black"},
 "encoding":{"x":{"field":"t","type":"quantitative","scale":{"domain":[3039.76,3069.4],"nice":false,"zero":false},"axis":null},
 "y":{"field":"v","type":"quantitative","scale":{"domain":[14.57,17.61],"reverse":true,"nice":false,"zero":false},"axis":{"title":"T mag","values":[15,16,17]}},"text":{"field":"label"}}}
]
},
{
"width":496,"height":122.5,
"layer":[
{"data":{"name":"band"},"mark":{"type":"circle","size":42,"color":"#ff0000","opacity":1,"clip":true},
 "encoding":{"x":{"field":"t","type":"quantitative","scale":{"domain":[3039.76,3069.4],"nice":false,"zero":false},"axis":null},
 "y":{"field":"b","type":"quantitative","scale":{"domain":[-29.9,37],"nice":false,"zero":false},"axis":{"title":["Bkg (red)/","bkg_model (purple)"],"values":[-20,0,20]}}}},
{"data":{"name":"bx"},"mark":{"type":"circle","size":42,"color":"#ff0000","opacity":1,"clip":true},
 "encoding":{"x":{"field":"t","type":"quantitative","scale":{"domain":[3039.76,3069.4],"nice":false,"zero":false},"axis":null},
 "y":{"field":"b","type":"quantitative","scale":{"domain":[-29.9,37],"nice":false,"zero":false},"axis":{"title":["Bkg (red)/","bkg_model (purple)"],"values":[-20,0,20]}}}},
{"data":{"name":"model"},"mark":{"type":"line","color":"#bf00bf","strokeWidth":2,"clip":true},
 "encoding":{"x":{"field":"t","type":"quantitative","scale":{"domain":[3039.76,3069.4],"nice":false,"zero":false},"axis":null},
 "y":{"field":"b","type":"quantitative","scale":{"domain":[-29.9,37],"nice":false,"zero":false},"axis":{"title":["Bkg (red)/","bkg_model (purple)"],"values":[-20,0,20]}}}},
{"data":{"name":"model"},"mark":{"type":"circle","size":9,"color":"#bf00bf","opacity":1,"clip":true},
 "encoding":{"x":{"field":"t","type":"quantitative","scale":{"domain":[3039.76,3069.4],"nice":false,"zero":false},"axis":null},
 "y":{"field":"b","type":"quantitative","scale":{"domain":[-29.9,37],"nice":false,"zero":false},"axis":{"title":["Bkg (red)/","bkg_model (purple)"],"values":[-20,0,20]}}}}
]
},
{
"width":496,"height":122.5,
"layer":[
{"data":{"name":"band"},"mark":{"type":"circle","size":38,"color":"black","opacity":1,"clip":true},
 "encoding":{"x":{"field":"t","type":"quantitative","scale":{"domain":[3039.76,3069.4],"nice":false,"zero":false},"axis":{"title":"BTJD \u22122\u2009457\u2009000","values":[3040,3045,3050,3055,3060,3065],"format":"d","titlePadding":4}},
 "y":{"field":"c","type":"quantitative","scale":{"domain":[14.55,17.34],"reverse":true,"nice":false,"zero":false},"axis":{"title":["T mag -","bkg_model"],"values":[15,16,17]}}}},
{"data":{"name":"p3"},"mark":{"type":"errorbar","color":"black","thickness":1.5},
 "encoding":{"x":{"field":"t","type":"quantitative","scale":{"domain":[3039.76,3069.4],"nice":false,"zero":false},"axis":{"title":"BTJD \u22122\u2009457\u2009000","values":[3040,3045,3050,3055,3060,3065],"format":"d","titlePadding":4}},
 "y":{"field":"v","type":"quantitative","scale":{"domain":[14.55,17.34],"reverse":true,"nice":false,"zero":false},"axis":{"title":["T mag -","bkg_model"],"values":[15,16,17]}},"yError":{"field":"e"}}},
{"data":{"name":"p3"},"mark":{"type":"circle","size":30,"color":"black","opacity":1,"clip":true},
 "encoding":{"x":{"field":"t","type":"quantitative","scale":{"domain":[3039.76,3069.4],"nice":false,"zero":false},"axis":{"title":"BTJD \u22122\u2009457\u2009000","values":[3040,3045,3050,3055,3060,3065],"format":"d","titlePadding":4}},
 "y":{"field":"v","type":"quantitative","scale":{"domain":[14.55,17.34],"reverse":true,"nice":false,"zero":false},"axis":{"title":["T mag -","bkg_model"],"values":[15,16,17]}}}}
]
}
]
}
